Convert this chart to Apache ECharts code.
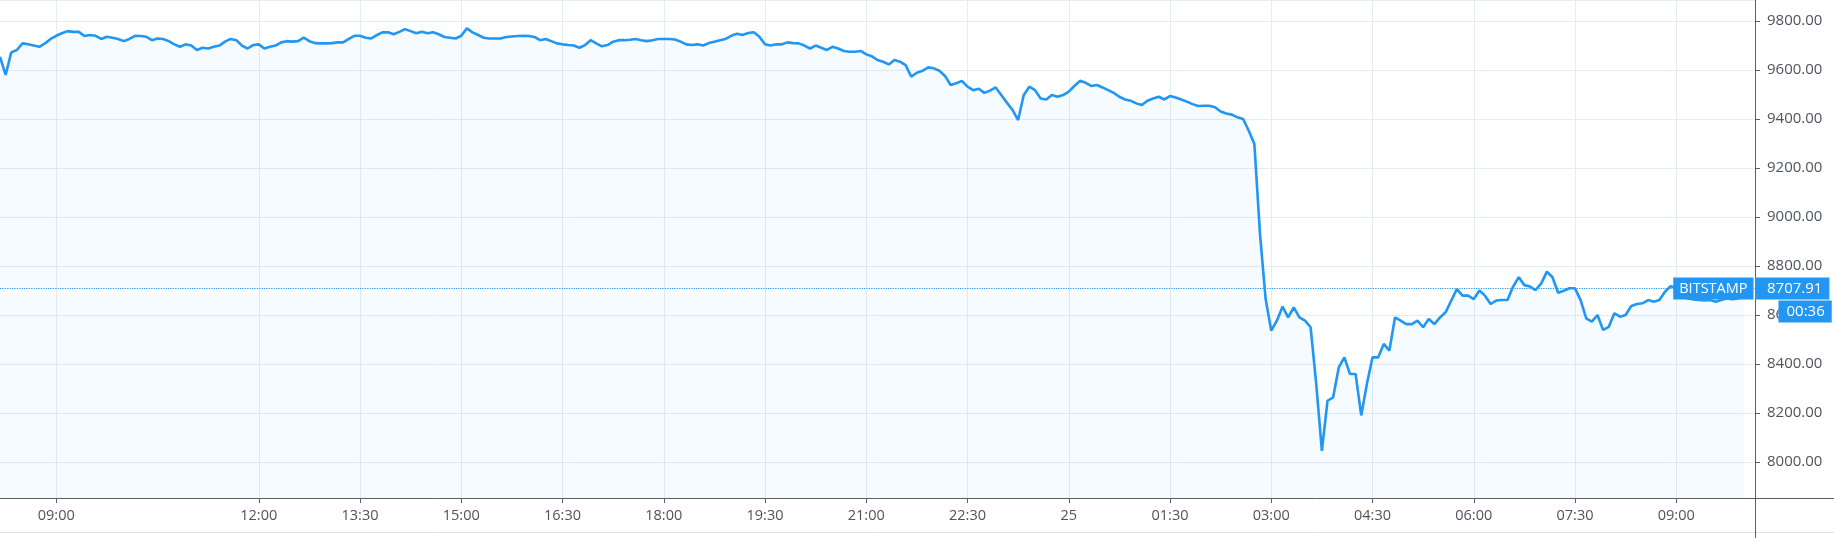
<!DOCTYPE html>
<html><head><meta charset="utf-8">
<script src="https://cdn.jsdelivr.net/npm/echarts@6/dist/echarts.min.js"></script>
<style>html,body{margin:0;padding:0;background:#fff}#c{width:1834px;height:538px}</style>
</head><body><div id="c"></div><script>
// 5-minute closes, from 08:10 (24th) to 10:00 (25th)
const pricesMorning = [9654,9580,9672,9682,9709,9705,9700,9695,9709,9727,9740,9750,9759,9756,9756,9739,9743,9740,9727,9736,9732,9727,9718,9727,9740,9739,9736,9722,9729,9727,9718,9705,9695,9705,9700,9682,9691,9688,9695,9700,9716,9727,9722,9700,9688,9702,9705,9688,9695,9700,9713,9718,9716,9718,9732,9718,9710,9709,9709,9710,9713,9713,9727,9740,9740,9732,9729,9743,9754,9754,9746,9756,9767,9759,9750,9756,9750,9754,9746,9735];
const pricesAfternoon = [9732,9729,9740,9770,9754,9743,9732,9729,9729,9729,9735,9737,9739,9740,9739,9735,9722,9727,9718,9709,9705,9702,9700,9691,9702,9722,9709,9697,9702,9716,9722,9722,9724,9727,9722,9718,9722,9727,9727,9727,9725,9716,9705,9702,9705,9700,9710,9716,9722,9727,9740,9748,9743,9751,9754,9736,9705,9700,9705,9705,9713,9710,9709,9700,9688,9700,9691,9682,9695,9688,9678,9675,9675,9678];
const pricesEvening = [9664,9656,9641,9634,9623,9641,9634,9620,9573,9589,9597,9611,9607,9597,9576,9539,9546,9556,9532,9518,9524,9507,9516,9529,9498,9467,9437,9396,9498,9532,9518,9484,9480,9498,9491,9498,9512,9535,9556,9548,9535,9539,9529,9518,9507,9491,9480,9475,9464,9457,9475,9484,9491,9480,9494,9488,9480,9471,9461,9453,9454,9454,9448,9431,9423,9418,9407,9400,9352,9298];
const pricesNight = [8931,8665,8536,8577,8634,8590,8631,8590,8577,8550,8318,8045,8250,8264,8386,8427,8359,8359,8190,8318,8427,8427,8482,8455,8590,8577,8563,8563,8577,8550,8584,8563,8590,8611,8659,8706,8679,8679,8665,8700,8679,8645,8659,8661,8661,8716,8754,8722,8716,8702,8729,8777,8754,8691,8699,8709,8709,8661,8586,8573,8600,8539,8552,8607,8593,8600,8637,8645,8648,8661,8654,8661,8695,8718,8709,8682,8668,8664,8661,8659,8661,8654,8661,8668,8664,8668,8675];
const emptyTail = [null, null];
const tickLabels = ['09:00','12:00','13:30','15:00','16:30','18:00','19:30','21:00','22:30','00:00','01:30','03:00','04:30','06:00','07:30'];
const dayLabel = {'00:00': '25'};
const lastPrice = 8707.91;
const sourceName = 'BITSTAMP';
const countdown = '00:36';

const prices = [].concat(pricesMorning, pricesAfternoon, pricesEvening, pricesNight, emptyTail);
const categories = [];
for (let i = 0; i < prices.length; i++) {
  const m = (8 * 60 + 10 + i * 5) % (24 * 60);
  categories.push(String(Math.floor(m / 60)).padStart(2, '0') + ':' + String(m % 60).padStart(2, '0'));
}
const isTick = (idx, val) => tickLabels.indexOf(val) >= 0;

const FONT = 'Open Sans';
const AXIS = '#5a5e69';
const TXT = '#50535e';
const GRID = '#e6ecf3';
const BLUE = '#2196f3';

const chart = echarts.init(document.getElementById('c'));
chart.setOption({
  animation: false,
  backgroundColor: '#ffffff',
  grid: { left: 0, right: 79, top: 0, bottom: 40 },
  xAxis: {
    type: 'category', data: categories, boundaryGap: false,
    axisLine: { lineStyle: { color: AXIS, width: 1 } },
    axisTick: { interval: isTick, length: 5, lineStyle: { color: AXIS } },
    axisLabel: { interval: isTick, margin: 10, color: TXT, fontSize: 14.5, fontFamily: FONT,
      formatter: v => dayLabel[v] || v },
    splitLine: { show: true, interval: isTick, lineStyle: { color: GRID, width: 1 } }
  },
  yAxis: {
    type: 'value', position: 'right', min: 7853, max: 9886, splitNumber: 10,
    minInterval: 200, maxInterval: 200, scale: true,
    axisLine: { show: true, lineStyle: { color: AXIS, width: 1 } },
    axisTick: { show: true, length: 5, lineStyle: { color: AXIS } },
    axisLabel: { margin: 12, color: TXT, fontSize: 15, fontFamily: FONT,
      showMinLabel: false, showMaxLabel: false, formatter: v => v.toFixed(2) },
    splitLine: { show: true, lineStyle: { color: GRID, width: 1 } }
  },
  series: [{
    type: 'line', data: prices, showSymbol: false, symbol: 'none', sampling: 'none',
    clip: false, connectNulls: false,
    lineStyle: { color: BLUE, width: 2.6 },
    itemStyle: { color: BLUE },
    areaStyle: { color: 'rgba(33,150,243,0.055)', origin: 'start' },
    markLine: {
      silent: true, symbol: 'none', animation: false,
      lineStyle: { type: 'dotted', color: BLUE, width: 1.2 },
      label: { show: true, position: 'end', distance: 0, formatter: lastPrice.toFixed(2),
        backgroundColor: BLUE, color: '#fff', fontSize: 15, fontFamily: FONT,
        lineHeight: 16, padding: [3, 7, 3, 12] },
      data: [{ yAxis: lastPrice }]
    },
    markPoint: {
      silent: true, animation: false, symbol: 'rect', symbolSize: 1,
      itemStyle: { color: 'rgba(0,0,0,0)' },
      data: [
        { coord: [prices.length - 1, lastPrice],
          label: { show: true, position: 'left', distance: 1, formatter: sourceName,
            backgroundColor: BLUE, color: '#fff', fontSize: 14.5, fontFamily: FONT,
            lineHeight: 16, padding: [3, 6, 3, 6] } },
        { coord: [prices.length - 1, lastPrice],
          label: { show: true, position: 'right', distance: 23, offset: [0, 23], formatter: countdown,
            backgroundColor: BLUE, color: '#fff', fontSize: 15, fontFamily: FONT,
            lineHeight: 16, padding: [3, 7, 3, 8] } }
      ]
    }
  }],
  graphic: [
    { type: 'line', z: 1, shape: { x1: 1755.5, y1: 498, x2: 1755.5, y2: 538 }, style: { stroke: AXIS, lineWidth: 1 } },
    { type: 'line', z: 1, shape: { x1: 1755, y1: 498.5, x2: 1834, y2: 498.5 }, style: { stroke: AXIS, lineWidth: 1 } },
    { type: 'line', z: 0, shape: { x1: 0, y1: 532.5, x2: 1755, y2: 532.5 }, style: { stroke: '#e0e3eb', lineWidth: 1 } },
    { type: 'line', z: 0, shape: { x1: 1756, y1: 532.5, x2: 1834, y2: 532.5 }, style: { stroke: '#e0e3eb', lineWidth: 1 } }
  ]
});
</script></body></html>
